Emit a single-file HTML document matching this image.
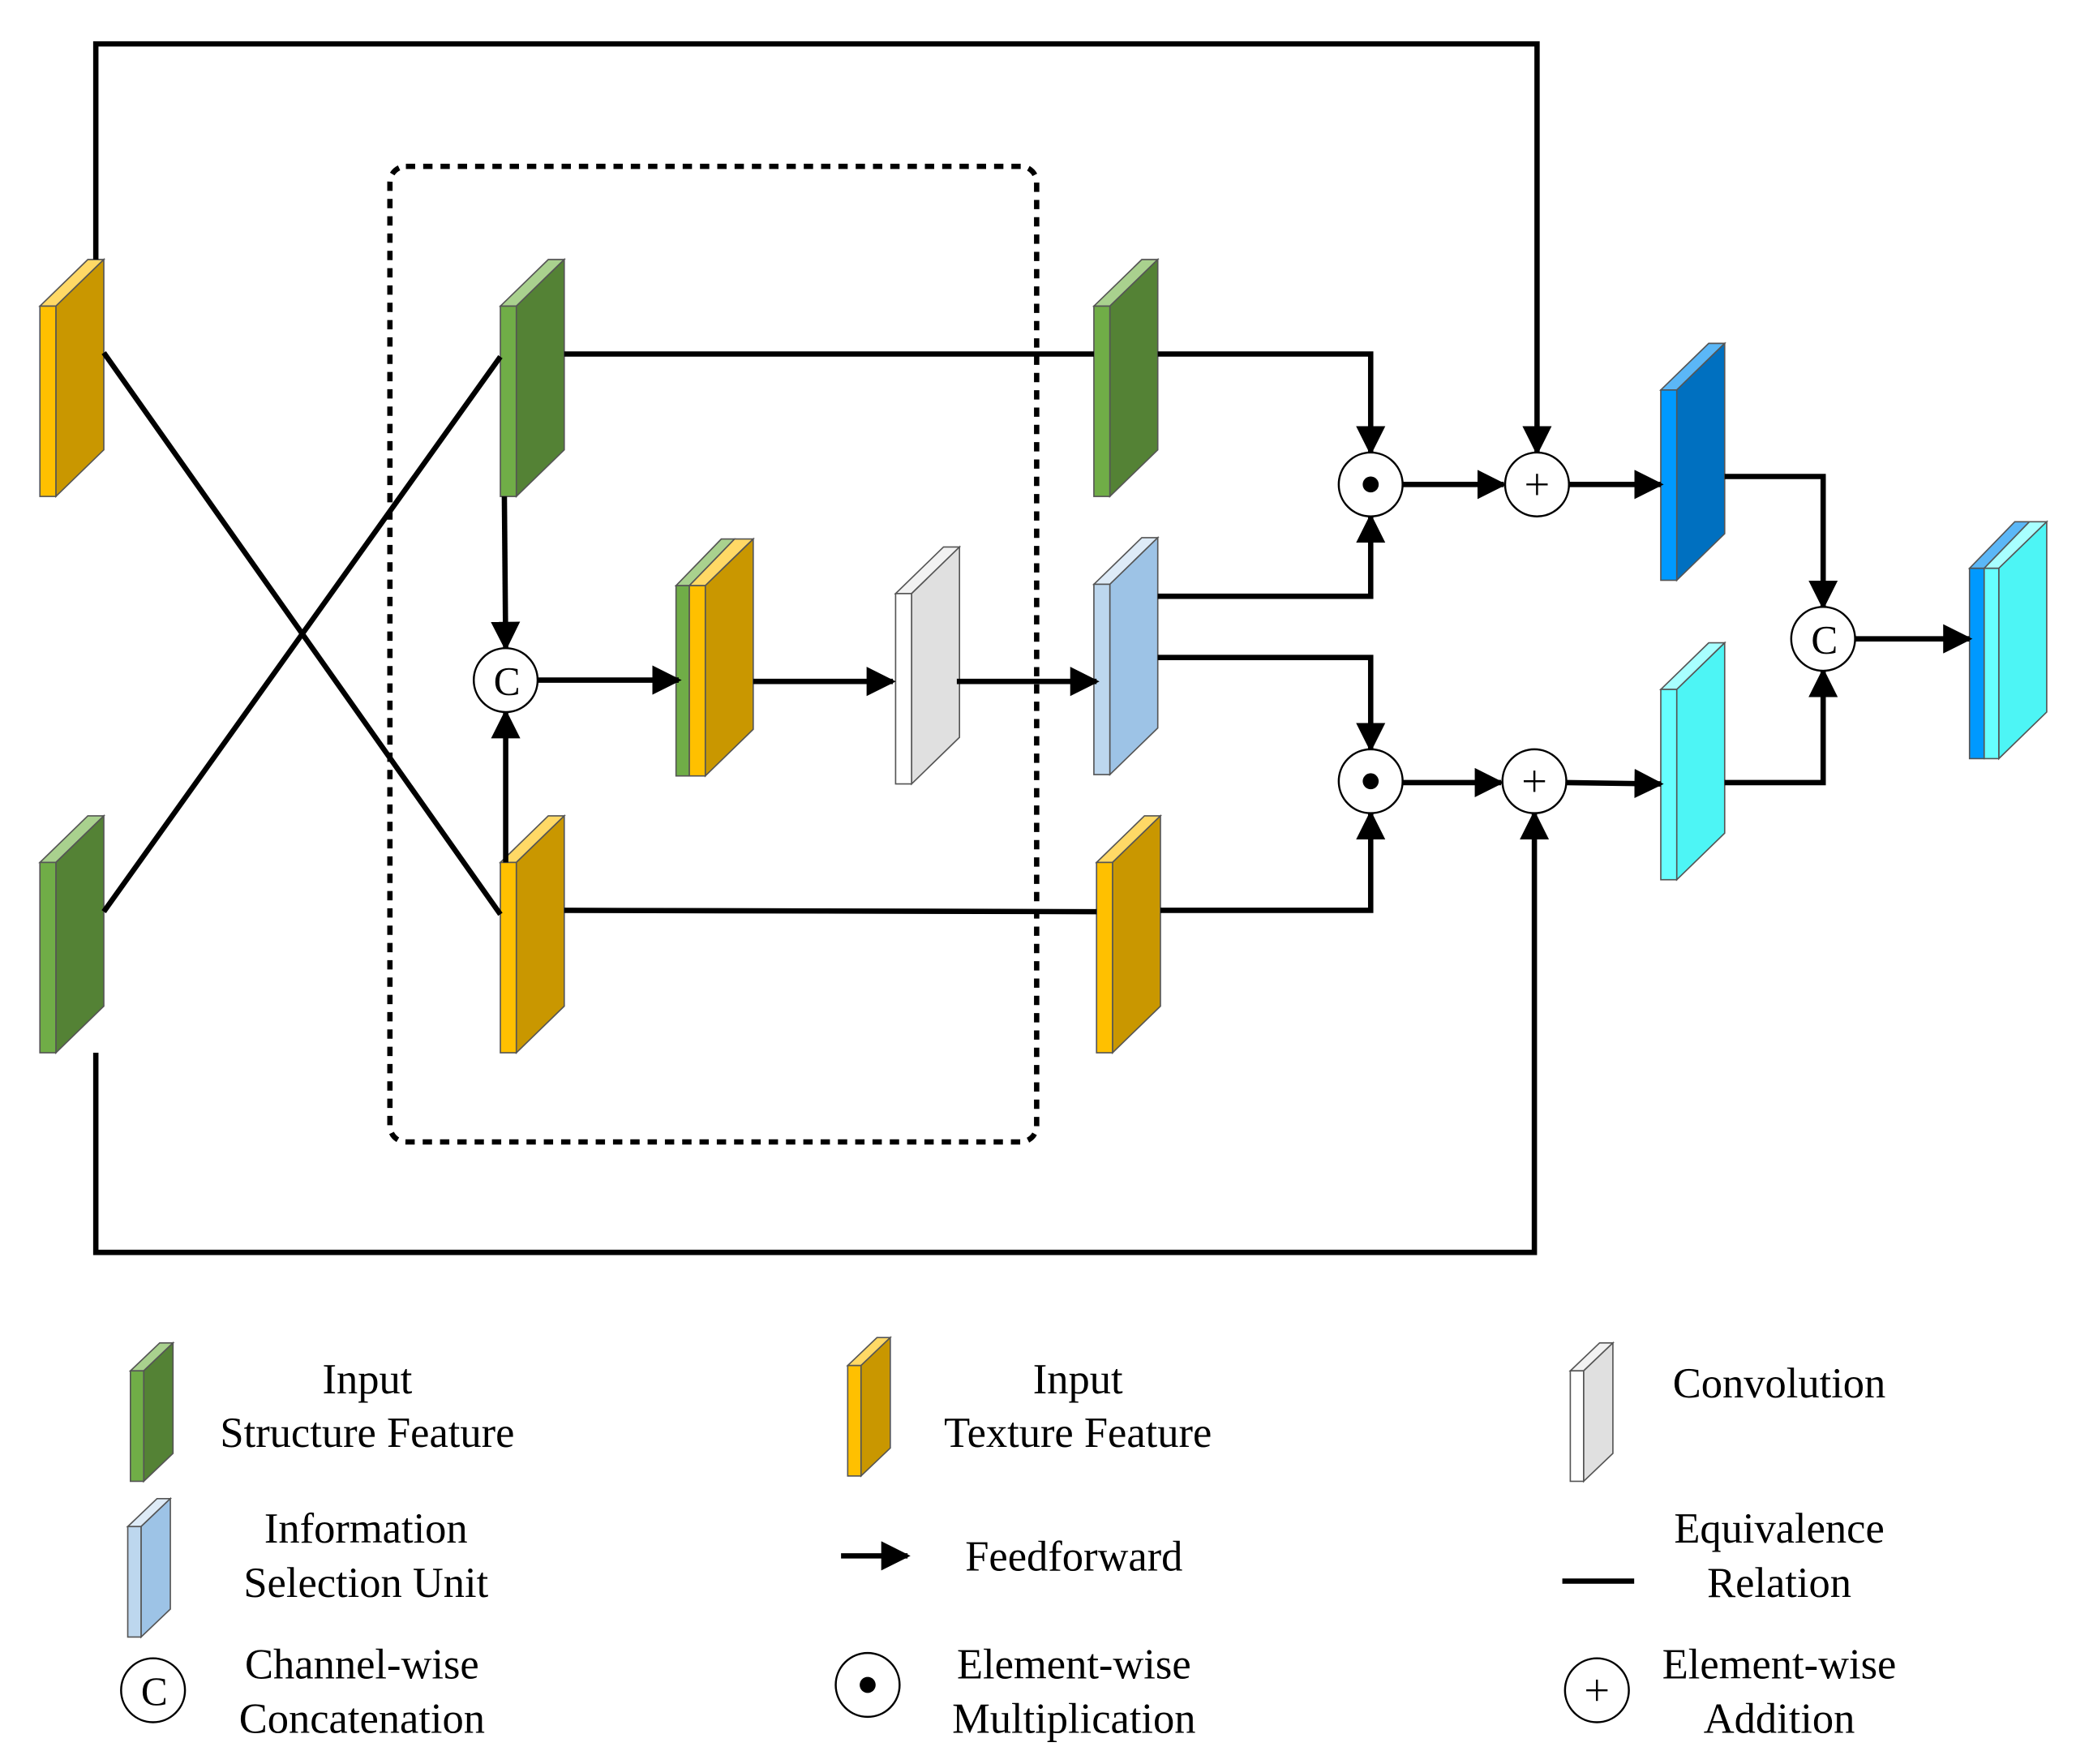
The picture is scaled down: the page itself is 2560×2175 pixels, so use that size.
<!DOCTYPE html>
<html><head><meta charset="utf-8">
<style>
html,body{margin:0;padding:0;background:#fff;}
svg{display:block;}
text{font-family:"Liberation Serif",serif;font-size:32px;fill:#000;text-anchor:middle;}
</style></head>
<body>
<svg width="2560" height="2175" viewBox="0 0 1560 1325.4" preserveAspectRatio="none" xmlns="http://www.w3.org/2000/svg">
<defs>
<marker id="ah" viewBox="0 0 10 10" refX="9" refY="5" markerWidth="5.5" markerHeight="5.5" orient="auto" markerUnits="strokeWidth">
<path d="M0,0 L10,5 L0,10 z" fill="#000"/>
</marker>
</defs>
<rect width="1560" height="1326" fill="#fff"/>

<g stroke="#555" stroke-width="1">
<!-- block helper: front x..x+12, side to x+48, top dy -35 -->
<!-- 1 orange left -->
<polygon points="30,230 66,195 78,195 42,230" fill="#FFD966"/>
<polygon points="42,230 78,195 78,338 42,373" fill="#C99700"/>
<rect x="30" y="230" width="12" height="143" fill="#FFC000"/>
<!-- 2 green left -->
<polygon points="30,648 66,613 78,613 42,648" fill="#A9D18E"/>
<polygon points="42,648 78,613 78,756 42,791" fill="#548235"/>
<rect x="30" y="648" width="12" height="143" fill="#70AD47"/>
<!-- 3 green inner -->
<polygon points="376,230 412,195 424,195 388,230" fill="#A9D18E"/>
<polygon points="388,230 424,195 424,338 388,373" fill="#548235"/>
<rect x="376" y="230" width="12" height="143" fill="#70AD47"/>
<!-- 4 orange inner -->
<polygon points="376,648 412,613 424,613 388,648" fill="#FFD966"/>
<polygon points="388,648 424,613 424,756 388,791" fill="#C99700"/>
<rect x="376" y="648" width="12" height="143" fill="#FFC000"/>
<!-- 5 concat block -->
<polygon points="508,440 542,405 552,405 518,440" fill="#A9D18E"/>
<polygon points="518,440 552,405 566,405 530,440" fill="#FFD966"/>
<polygon points="530,440 566,405 566,548 530,583" fill="#C99700"/>
<rect x="508" y="440" width="10" height="143" fill="#70AD47"/>
<rect x="518" y="440" width="12" height="143" fill="#FFC000"/>
<!-- 6 conv white -->
<polygon points="673,446 709,411 721,411 685,446" fill="#F2F2F2"/>
<polygon points="685,446 721,411 721,554 685,589" fill="#E0E0E0"/>
<rect x="673" y="446" width="12" height="143" fill="#FFFFFF"/>
<!-- 7 green right -->
<polygon points="822,230 858,195 870,195 834,230" fill="#A9D18E"/>
<polygon points="834,230 870,195 870,338 834,373" fill="#548235"/>
<rect x="822" y="230" width="12" height="143" fill="#70AD47"/>
<!-- 8 blue ISU -->
<polygon points="822,439 858,404 870,404 834,439" fill="#DEEBF7"/>
<polygon points="834,439 870,404 870,547 834,582" fill="#9DC3E6"/>
<rect x="822" y="439" width="12" height="143" fill="#BDD7EE"/>
<!-- 9 orange right -->
<polygon points="824,648 860,613 872,613 836,648" fill="#FFD966"/>
<polygon points="836,648 872,613 872,756 836,791" fill="#C99700"/>
<rect x="824" y="648" width="12" height="143" fill="#FFC000"/>
<!-- 10 dark blue -->
<polygon points="1248,293 1284,258 1296,258 1260,293" fill="#5BB7F7"/>
<polygon points="1260,293 1296,258 1296,401 1260,436" fill="#0070C0"/>
<rect x="1248" y="293" width="12" height="143" fill="#0099FF"/>
<!-- 11 cyan -->
<polygon points="1248,518 1284,483 1296,483 1260,518" fill="#A8FFFF"/>
<polygon points="1260,518 1296,483 1296,626 1260,661" fill="#4DF5F5"/>
<rect x="1248" y="518" width="12" height="143" fill="#66FFFF"/>
<!-- 12 output -->
<polygon points="1480,427 1514,392 1525,392 1491,427" fill="#5BB7F7"/>
<polygon points="1491,427 1525,392 1538,392 1502,427" fill="#A8FFFF"/>
<polygon points="1502,427 1538,392 1538,535 1502,570" fill="#4DF5F5"/>
<rect x="1480" y="427" width="11" height="143" fill="#0099FF"/>
<rect x="1491" y="427" width="11" height="143" fill="#66FFFF"/>

<!-- legend blocks -->
<polygon points="98,1030 120,1009 130,1009 108,1030" fill="#A9D18E"/>
<polygon points="108,1030 130,1009 130,1092 108,1113" fill="#548235"/>
<rect x="98" y="1030" width="10" height="83" fill="#70AD47"/>

<polygon points="637,1026 659,1005 669,1005 647,1026" fill="#FFD966"/>
<polygon points="647,1026 669,1005 669,1088 647,1109" fill="#C99700"/>
<rect x="637" y="1026" width="10" height="83" fill="#FFC000"/>

<polygon points="1180,1030 1202,1009 1212,1009 1190,1030" fill="#F2F2F2"/>
<polygon points="1190,1030 1212,1009 1212,1092 1190,1113" fill="#E0E0E0"/>
<rect x="1180" y="1030" width="10" height="83" fill="#FFFFFF"/>

<polygon points="96,1147 118,1126 128,1126 106,1147" fill="#DEEBF7"/>
<polygon points="106,1147 128,1126 128,1209 106,1230" fill="#9DC3E6"/>
<rect x="96" y="1147" width="10" height="83" fill="#BDD7EE"/>
</g>

<!-- dashed box -->
<rect x="293" y="125" width="486" height="733" rx="12" fill="none" stroke="#000" stroke-width="4" stroke-dasharray="7,6"/>

<g stroke="#000" stroke-width="4" fill="none">
<polyline points="72,195 72,33 1155,33 1155,340" marker-end="url(#ah)"/>
<polyline points="72,791 72,941 1153,941 1153,611" marker-end="url(#ah)"/>
<line x1="78" y1="265" x2="376" y2="687"/>
<line x1="78" y1="685" x2="376" y2="268"/>
<line x1="424" y1="266" x2="822" y2="266"/>
<line x1="424" y1="684" x2="824" y2="685"/>
<line x1="379" y1="373" x2="380" y2="487" marker-end="url(#ah)"/>
<line x1="380" y1="648" x2="380" y2="535" marker-end="url(#ah)"/>
<line x1="404" y1="511" x2="510" y2="511" marker-end="url(#ah)"/>
<line x1="566" y1="512" x2="671" y2="512" marker-end="url(#ah)"/>
<line x1="719" y1="512" x2="824" y2="512" marker-end="url(#ah)"/>
<polyline points="870,266 1030,266 1030,340" marker-end="url(#ah)"/>
<polyline points="870,448 1030,448 1030,388" marker-end="url(#ah)"/>
<polyline points="870,494 1030,494 1030,563" marker-end="url(#ah)"/>
<polyline points="872,684 1030,684 1030,611" marker-end="url(#ah)"/>
<line x1="1054" y1="364" x2="1130" y2="364" marker-end="url(#ah)"/>
<line x1="1179" y1="364" x2="1248" y2="364" marker-end="url(#ah)"/>
<line x1="1054" y1="588" x2="1128" y2="588" marker-end="url(#ah)"/>
<line x1="1177" y1="588" x2="1248" y2="589" marker-end="url(#ah)"/>
<polyline points="1296,358 1370,358 1370,456" marker-end="url(#ah)"/>
<polyline points="1296,588 1370,588 1370,504" marker-end="url(#ah)"/>
<line x1="1394" y1="480" x2="1480" y2="480" marker-end="url(#ah)"/>
<!-- legend lines -->
<line x1="632" y1="1169" x2="682" y2="1169" marker-end="url(#ah)"/>
<line x1="1174" y1="1188" x2="1228" y2="1188"/>
</g>

<!-- circles -->
<g fill="#fff" stroke="#000" stroke-width="1.5">
<circle cx="380" cy="511" r="24"/>
<circle cx="1030" cy="364" r="24"/>
<circle cx="1030" cy="587" r="24"/>
<circle cx="1155" cy="364" r="24"/>
<circle cx="1153" cy="587" r="24"/>
<circle cx="1370" cy="480" r="24"/>
<circle cx="115" cy="1270" r="24"/>
<circle cx="652" cy="1266" r="24"/>
<circle cx="1200" cy="1270" r="24"/>
</g>
<g fill="#000">
<circle cx="1030" cy="364" r="6"/>
<circle cx="1030" cy="587" r="6"/>
<circle cx="652" cy="1266" r="6"/>
</g>
<g stroke="#000" stroke-width="1.5">
<line x1="1147" y1="364" x2="1163" y2="364"/><line x1="1155" y1="356" x2="1155" y2="372"/>
<line x1="1145" y1="587" x2="1161" y2="587"/><line x1="1153" y1="579" x2="1153" y2="595"/>
<line x1="1192" y1="1270" x2="1208" y2="1270"/><line x1="1200" y1="1262" x2="1200" y2="1278"/>
</g>
<text x="381" y="522" style="font-size:30px">C</text>
<text x="1371" y="491" style="font-size:30px">C</text>
<text x="116" y="1281" style="font-size:30px">C</text>

<!-- legend text -->
<text x="276" y="1047">Input</text>
<text x="276" y="1087">Structure Feature</text>
<text x="810" y="1047">Input</text>
<text x="810" y="1087">Texture Feature</text>
<text x="1337" y="1050">Convolution</text>
<text x="275" y="1159">Information</text>
<text x="275" y="1200">Selection Unit</text>
<text x="807" y="1180">Feedforward</text>
<text x="1337" y="1159">Equivalence</text>
<text x="1337" y="1200">Relation</text>
<text x="272" y="1261">Channel-wise</text>
<text x="272" y="1302">Concatenation</text>
<text x="807" y="1261">Element-wise</text>
<text x="807" y="1302">Multiplication</text>
<text x="1337" y="1261">Element-wise</text>
<text x="1337" y="1302">Addition</text>
</svg>
</body></html>
